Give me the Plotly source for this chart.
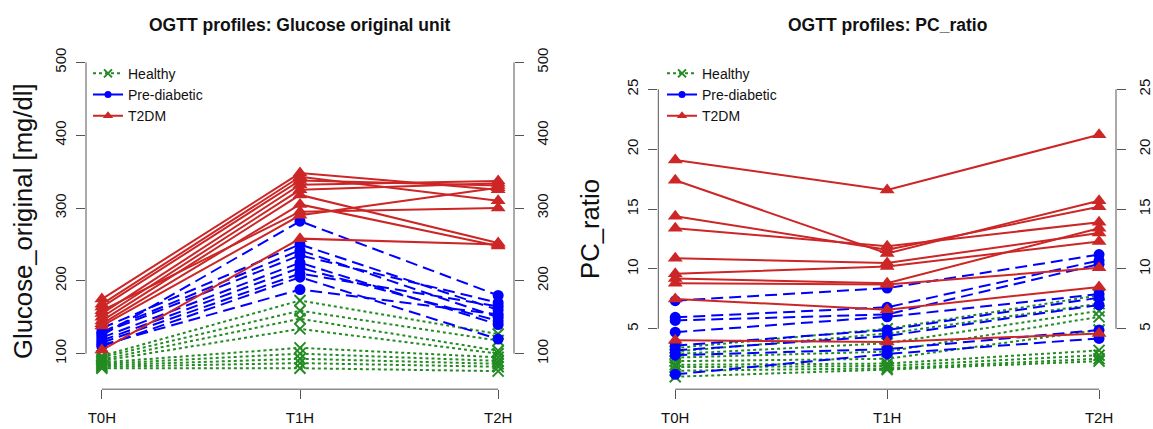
import plotly.graph_objects as go

W, H = 1153, 429

timepoints = ["T0H", "T1H", "T2H"]
group_names = ["Healthy", "Pre-diabetic", "T2DM"]

# Glucose original unit [mg/dl], one row per subject: T0H, T1H, T2H
glu_healthy = [
    [97, 173, 127], [95, 159, 118], [92, 148, 104], [90, 134, 100],
    [88, 108, 95], [86, 100, 90], [84, 93, 86], [82, 87, 82], [80, 80, 76],
]
glu_prediab = [
    [125, 282, 180], [135, 250, 160], [130, 242, 150], [128, 235, 170],
    [122, 225, 140], [118, 218, 145], [115, 210, 165], [110, 205, 120],
    [112, 188, 154],
]
glu_t2dm = [
    [175, 348, 325], [168, 343, 310], [164, 338, 331], [159, 295, 300],
    [155, 332, 337], [150, 325, 334], [145, 318, 252], [141, 305, 248],
    [138, 290, 328], [105, 258, 250],
]

# PC_ratio, one row per subject
pc_healthy = [
    [3.4, 5.0, 7.8], [3.1, 4.6, 7.1], [2.9, 3.8, 6.5], [2.6, 3.1, 6.0],
    [2.3, 2.5, 4.9], [2.0, 2.1, 3.2], [1.8, 1.9, 2.8], [1.5, 1.7, 2.5],
    [1.0, 1.6, 2.3],
]
pc_prediab = [
    [7.35, 8.4, 11.2], [5.96, 6.8, 10.7], [5.7, 6.2, 10.4], [4.72, 6.0, 7.9],
    [3.6, 4.9, 7.6], [3.2, 4.4, 7.0], [2.8, 3.3, 4.9], [1.2, 2.9, 4.2],
]
pc_t2dm = [
    [19.1, 16.6, 21.2], [17.4, 11.3, 15.7], [14.4, 11.6, 15.2], [13.4, 11.9, 13.9],
    [10.9, 10.5, 13.0], [9.6, 10.2, 12.3], [9.2, 8.8, 13.4], [8.8, 8.7, 10.1],
    [7.5, 6.6, 8.5], [4.05, 3.9, 4.6],
]

glu_ticks = [100, 200, 300, 400, 500]
pc_ticks = [5, 10, 15, 20, 25]

GREEN, BLUE, RED = "#228B22", "#0000FF", "#CD2626"
styles = {
    "Healthy": dict(color=GREEN, dash="3px,3px", symbol="x-thin", size=11),
    "Pre-diabetic": dict(color=BLUE, dash="12px,6px", symbol="circle", size=11),
    "T2DM": dict(color=RED, dash="solid", symbol="triangle-up", size=13),
}
FONT = "Liberation Sans, Arial, sans-serif"

fig = go.Figure()
xpos = [0, 1, 2]


def add_group(rows, name, xa, ya):
    st = styles[name]
    for r in rows:
        fig.add_trace(go.Scatter(
            x=xpos, y=r, mode="lines+markers", xaxis=xa, yaxis=ya,
            showlegend=False, hoverinfo="skip",
            line=dict(color=st["color"], width=2, dash=st["dash"]),
            marker=dict(symbol=st["symbol"], size=st["size"], color=st["color"],
                        line=dict(color=st["color"], width=2 if st["symbol"] == "x-thin" else 0)),
        ))


for rows, name in [(glu_healthy, "Healthy"), (glu_prediab, "Pre-diabetic"), (glu_t2dm, "T2DM")]:
    add_group(rows, name, "x", "y")
for rows, name in [(pc_healthy, "Healthy"), (pc_prediab, "Pre-diabetic"), (pc_t2dm, "T2DM")]:
    add_group(rows, name, "x2", "y2")

# legend entries
leg_style = {
    "Healthy": dict(dash="dot", size=8),
    "Pre-diabetic": dict(dash="solid", size=7),
    "T2DM": dict(dash="solid", size=9),
}
for xa, ya, lg in [("x", "y", "legend"), ("x2", "y2", "legend2")]:
    for name in group_names:
        st = styles[name]
        ls = leg_style[name]
        fig.add_trace(go.Scatter(
            x=[None], y=[None], mode="lines+markers", name=name, xaxis=xa, yaxis=ya,
            legend=lg, showlegend=True,
            line=dict(color=st["color"], width=2, dash=ls["dash"]),
            marker=dict(symbol=st["symbol"], size=ls["size"], color=st["color"],
                        line=dict(color=st["color"], width=2 if st["symbol"] == "x-thin" else 0)),
        ))

# dummy traces for right-side axes
fig.add_trace(go.Scatter(x=[None], y=[None], xaxis="x", yaxis="y3", showlegend=False))
fig.add_trace(go.Scatter(x=[None], y=[None], xaxis="x2", yaxis="y4", showlegend=False))

AX = "#555555"
ydom = [(H - 389) / H, (H - 48) / H]
x1dom = [86 / W, 514 / W]
x2dom = [658.3 / W, 1116 / W]
glu_range = [51.2, 517.4]
pc_range = [-0.04, 28.30]

common_x = dict(range=[-0.08, 2.08], tickvals=xpos, ticktext=timepoints, ticks="outside",
                ticklen=9, tickcolor=AX, showline=False, showgrid=False, zeroline=False,
                tickfont=dict(size=15, color="#111", family=FONT), ticklabelstandoff=6)
common_y = dict(ticks="outside", ticklen=9, tickcolor=AX, showline=False, showgrid=False,
                zeroline=False, tickangle=-90, tickfont=dict(size=15, color="#111", family=FONT))

leg_common = dict(xanchor="left", yanchor="top", bgcolor="rgba(0,0,0,0)",
                  font=dict(size=14, color="#111", family=FONT), tracegroupgap=0)

fig.update_layout(
    width=W, height=H, margin=dict(l=0, r=0, t=0, b=0),
    paper_bgcolor="white", plot_bgcolor="white",
    font=dict(family=FONT, size=15, color="#111"),
    xaxis=dict(domain=x1dom, anchor="y", **common_x),
    xaxis2=dict(domain=x2dom, anchor="y2", **common_x),
    yaxis=dict(domain=ydom, anchor="x", range=glu_range, tickvals=glu_ticks, ticklabelstandoff=4, **common_y),
    yaxis3=dict(domain=ydom, anchor="x", overlaying="y", side="right", range=glu_range,
                tickvals=glu_ticks, ticklabelstandoff=6, **common_y),
    yaxis2=dict(domain=ydom, anchor="x2", range=pc_range, tickvals=pc_ticks, ticklabelstandoff=4, **common_y),
    yaxis4=dict(domain=ydom, anchor="x2", overlaying="y2", side="right", range=pc_range,
                tickvals=pc_ticks, ticklabelstandoff=6, **common_y),
    legend=dict(x=88 / W, y=(H - 56) / H, **leg_common),
    legend2=dict(x=662 / W, y=(H - 56) / H, **leg_common),
    showlegend=True,
)

# R-style axis lines spanning only the tick range
shapes = []
for xr, yr, yt, xr2 in [("x domain", "y", glu_ticks, "x"), ("x2 domain", "y2", pc_ticks, "x2")]:
    shapes.append(dict(type="line", xref=xr, yref=yr, x0=0, x1=0, y0=yt[0], y1=yt[-1],
                       line=dict(color=AX, width=1)))
    shapes.append(dict(type="line", xref=xr, yref=yr, x0=1, x1=1, y0=yt[0], y1=yt[-1],
                       line=dict(color=AX, width=1)))
    shapes.append(dict(type="line", xref=xr2, yref=yr + " domain", x0=xpos[0], x1=xpos[-1], y0=0, y1=0,
                       line=dict(color=AX, width=1)))
fig.update_layout(shapes=shapes)

ann = [
    dict(text="<b>OGTT profiles: Glucose original unit</b>", x=300 / W, y=(H - 22.7) / H,
         font=dict(size=17.5, family=FONT, color="#111")),
    dict(text="<b>OGTT profiles: PC_ratio</b>", x=887 / W, y=(H - 22.7) / H,
         font=dict(size=17.5, family=FONT, color="#111")),
    dict(text="Glucose_original [mg/dl]", x=23 / W, y=(H - 220) / H, textangle=-90,
         font=dict(size=25.7, family=FONT, color="#111")),
    dict(text="PC_ratio", x=590 / W, y=(H - 228) / H, textangle=-90,
         font=dict(size=25.7, family=FONT, color="#111")),
]
for a in ann:
    a.update(xref="paper", yref="paper", xanchor="center", yanchor="middle", showarrow=False)
fig.update_layout(annotations=ann)

fig.write_html("out.html")
